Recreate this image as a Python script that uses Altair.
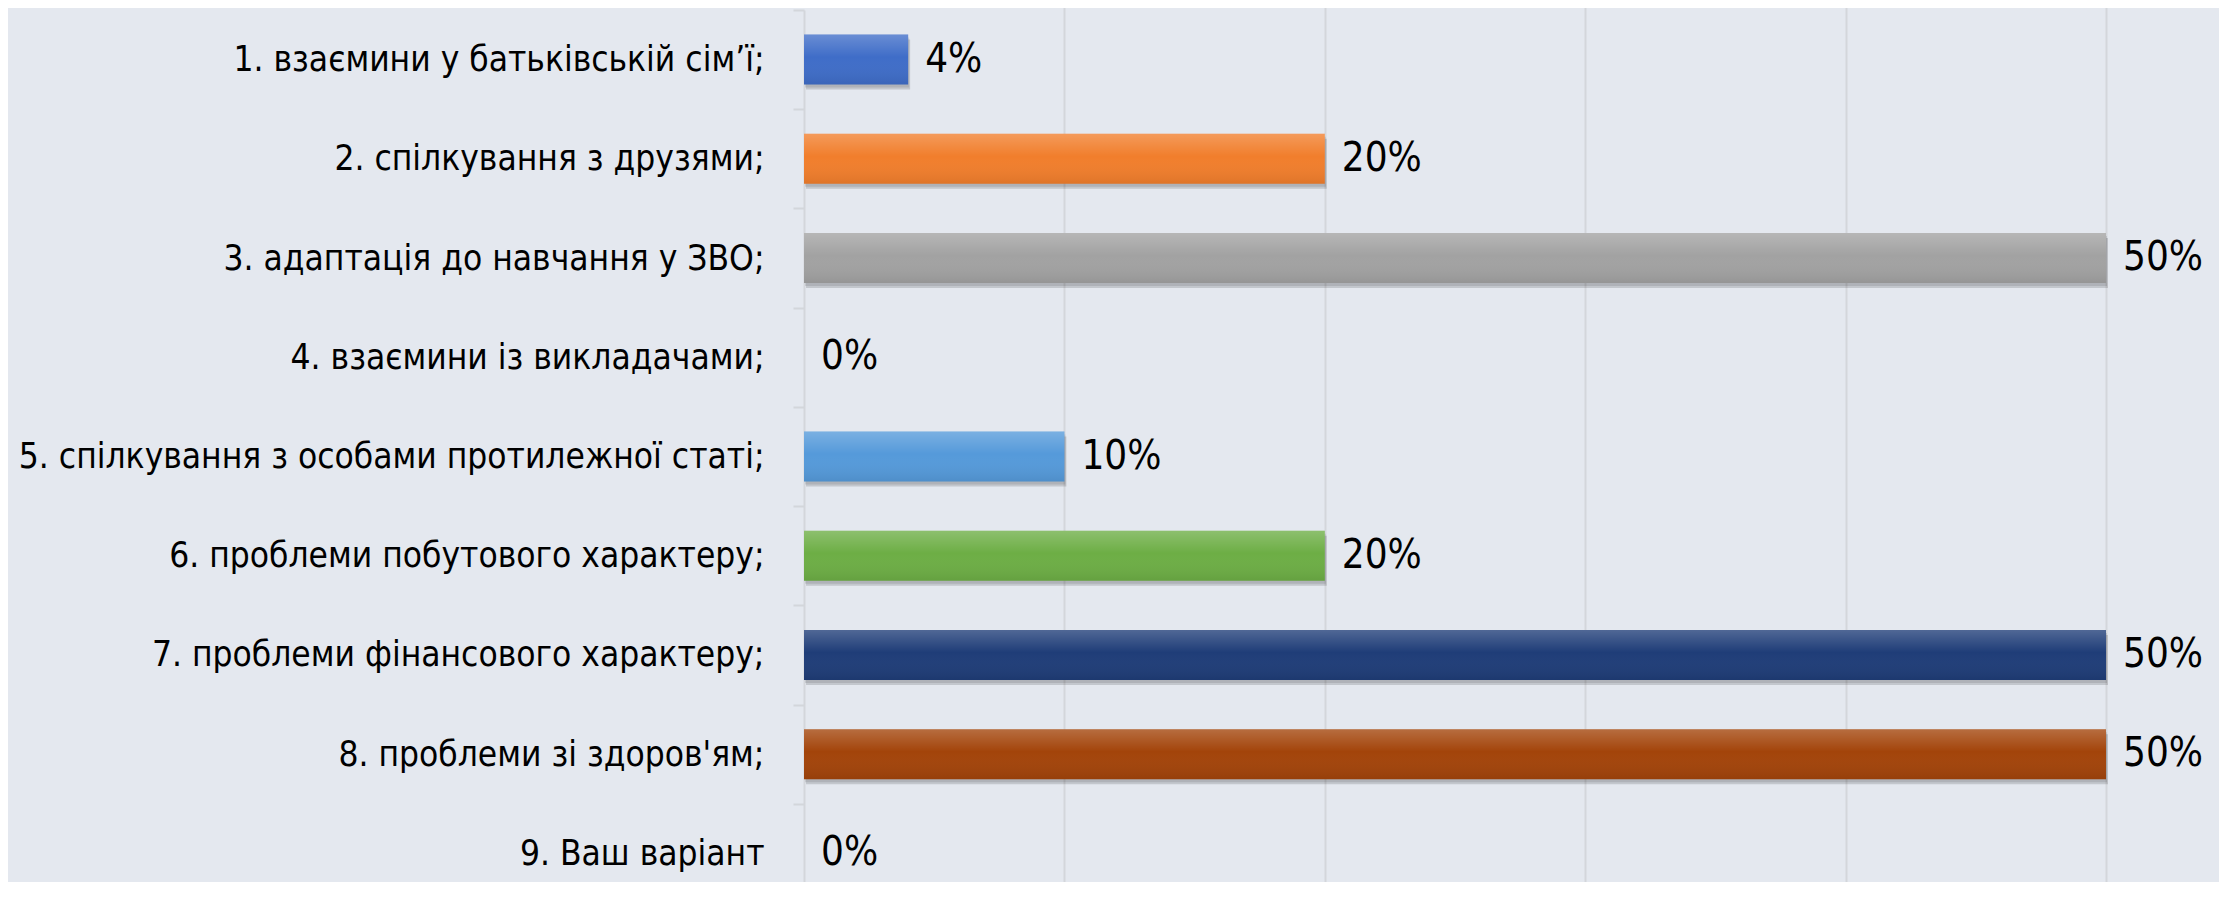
import altair as alt
import pandas as pd

categories = [
    "1. взаємини у батьківській сім’ї;",
    "2. спілкування з друзями;",
    "3. адаптація до навчання у ЗВО;",
    "4. взаємини із викладачами;",
    "5. спілкування з особами протилежної статі;",
    "6. проблеми побутового характеру;",
    "7. проблеми фінансового характеру;",
    "8. проблеми зі здоров'ям;",
    "9. Ваш варіант",
]
values = [0.04, 0.20, 0.50, 0.0, 0.10, 0.20, 0.50, 0.50, 0.0]
colors = ["#3F6DC8", "#F17E2C", "#A2A2A2", "#FFC000", "#559ADA",
          "#6DAE45", "#1F3D78", "#A3440A", "#636363"]

df = pd.DataFrame({"cat": categories, "val": values})

FONT = "Liberation Sans Narrow, Arial Narrow, DejaVu Sans Condensed, Lato, sans-serif"

y_enc = alt.Y(
    "cat:N",
    sort=categories,
    title=None,
    scale=alt.Scale(range=[0, 893], paddingInner=0, paddingOuter=0),
    axis=alt.Axis(
        labelFont=FONT,
        labelFontSize=35,
        labelColor="#000000",
        labelPadding=29,
        labelLimit=0,
        tickBand="extent",
        tickSize=11,
        tickWidth=2,
        tickColor="#D3D6DB",
        domainColor="#D3D6DB",
        domainWidth=2,
        grid=False,
    ),
)
x_enc = alt.X(
    "val:Q",
    title=None,
    scale=alt.Scale(domain=[0, 0.5], nice=False),
    axis=alt.Axis(
        values=[0.1, 0.2, 0.3, 0.4, 0.5],
        labels=False,
        ticks=False,
        domain=False,
        grid=True,
        gridColor="#D3D6DB",
        gridWidth=2,
    ),
)

base = alt.Chart(df)

shadow = base.mark_bar(size=50, color="#000000", opacity=0.14, yOffset=5, xOffset=2).encode(
    x=x_enc, y=y_enc
)
shadow2 = base.mark_bar(size=50, color="#000000", opacity=0.10, yOffset=3, xOffset=1).encode(
    x="val:Q", y=alt.Y("cat:N", sort=categories)
)

bars = base.mark_bar(size=50).encode(
    x="val:Q",
    y=alt.Y("cat:N", sort=categories),
    color=alt.Color("cat:N", scale=alt.Scale(domain=categories, range=colors), legend=None),
)

overlay = base.mark_bar(
    size=50,
    color=alt.LinearGradient(
        gradient="linear",
        x1=0, x2=0, y1=0, y2=1,
        stops=[
            alt.GradientStop(color="rgba(255,255,255,0.22)", offset=0),
            alt.GradientStop(color="rgba(255,255,255,0.0)", offset=0.45),
            alt.GradientStop(color="rgba(0,0,0,0.08)", offset=1),
        ],
    ),
).encode(x="val:Q", y=alt.Y("cat:N", sort=categories))

labels = base.mark_text(
    align="left", baseline="middle", dx=17, font=FONT, fontSize=40, color="#000000"
).encode(
    x="val:Q",
    y=alt.Y("cat:N", sort=categories),
    text=alt.Text("val:Q", format=".0%"),
)

chart = (
    alt.layer(shadow, shadow2, bars, overlay, labels)
    .properties(
        width=1302,
        height=872,
        background="#E4E8EF",
        padding={"left": 796, "top": 2, "right": 113, "bottom": 0},
        autosize=alt.AutoSizeParams(type="none"),
    )
    .configure_view(stroke=None)
)

chart.save("out.html", embed_options={"renderer": "svg", "actions": False})
